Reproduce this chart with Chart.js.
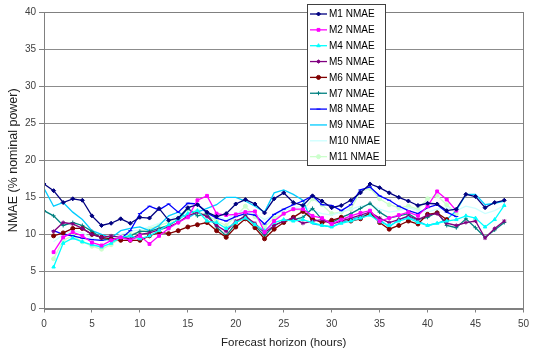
<!DOCTYPE html>
<html>
<head>
<meta charset="utf-8">
<script src="https://cdn.jsdelivr.net/npm/chart.js@4/dist/chart.umd.min.js"></script>
<style>
  html, body { margin: 0; padding: 0; background: #fff; }
  #wrap { width: 535px; height: 358px; }
</style>
</head>
<body>
<div id="wrap"><canvas id="nmaeChart" width="535" height="358"></canvas></div>
<script>
// forecast horizon in hours
const hours = [0,1,2,3,4,5,6,7,8,9,10,11,12,13,14,15,16,17,18,19,20,21,22,23,24,25,26,27,28,29,30,31,32,33,34,35,36,37,38,39,40,41,42,43,44,45,46,47,48];

const m1 = [16.8,15.9,14.3,14.8,14.6,12.5,11.2,11.5,12.1,11.5,12.3,12.2,13.5,11.9,12.2,13.6,14.0,13.0,12.4,12.8,14.1,14.7,14.1,12.9,14.8,15.6,14.3,13.9,15.2,14.5,13.6,13.9,14.6,15.6,16.8,16.3,15.6,15.0,14.5,13.9,14.2,14.1,13.2,13.4,15.4,15.1,13.6,14.3,14.6];
const m2 = [null,7.6,9.6,10.3,9.8,8.9,8.5,9.2,9.6,9.2,9.8,8.7,9.8,10.8,11.6,12.3,14.6,15.2,12.8,12.6,12.7,13.0,13.1,10.3,11.8,12.8,13.4,13.4,12.5,12.2,11.4,12.0,12.5,12.9,13.2,11.8,12.2,12.6,13.0,12.5,13.8,15.8,14.7,13.2,null,null,null,null,null];
const m4 = [null,5.6,8.8,9.5,9.0,8.6,8.3,8.8,9.6,9.8,9.4,9.8,10.5,11.3,12.0,12.8,13.2,11.8,11.6,10.8,11.6,12.2,11.3,10.5,11.6,12.0,11.8,12.0,11.6,11.2,11.0,11.5,11.8,12.2,12.6,11.7,11.2,11.8,12.2,11.6,11.2,11.5,11.8,12.0,12.5,12.2,11.0,12.0,13.9];
const m5 = [null,10.4,11.6,11.4,10.8,10.0,9.6,9.8,9.6,9.4,10.0,10.2,10.6,11.0,11.6,12.5,13.0,12.4,11.2,10.4,11.8,12.4,11.5,10.2,11.2,11.8,12.2,11.5,11.8,12.0,11.4,11.8,12.2,12.6,13.0,12.2,11.6,12.0,12.5,12.0,12.6,12.8,11.5,11.2,11.6,11.8,9.5,10.8,11.8];
const m6 = [null,9.8,10.2,10.8,10.8,10.0,9.6,9.4,9.2,9.2,9.2,9.8,10.3,10.1,10.5,11.0,11.3,11.6,10.5,9.6,11.0,12.1,10.9,9.4,10.7,11.6,12.3,13.1,12.1,11.6,11.9,12.3,11.8,12.1,12.9,11.6,10.7,11.2,11.8,11.4,12.7,12.9,12.0,null,null,null,null,null,null];
const m7 = [13.2,12.5,11.2,11.6,11.2,10.4,9.5,9.2,9.4,9.8,10.4,10.4,10.8,11.2,12.0,13.5,12.5,12.8,11.0,9.8,11.5,12.6,11.2,9.8,11.2,11.8,12.0,12.3,13.5,12.0,11.6,12.3,12.8,13.5,14.2,13.0,12.2,12.5,12.8,12.0,12.3,13.0,11.2,10.9,12.1,10.9,9.6,10.6,11.6];
const m8 = [null,10.5,10.0,9.8,9.5,9.3,9.2,9.4,9.4,10.5,12.8,13.8,13.3,14.1,13.0,14.2,14.1,12.9,12.2,11.8,12.4,12.8,12.6,11.4,12.7,13.4,14.0,14.5,15.2,14.0,13.9,13.2,14.0,16.0,16.4,15.2,14.6,13.8,13.2,12.8,13.6,14.0,13.0,12.4,null,null,null,null,null];
const m9 = [16.2,13.8,14.3,13.0,12.0,10.5,10.0,9.5,10.5,10.8,11.0,10.5,11.2,12.5,13.0,12.2,13.0,13.5,14.0,15.0,15.0,14.5,13.8,13.0,15.6,16.0,15.4,14.6,11.4,11.2,11.0,11.6,12.0,12.4,12.8,12.0,11.0,12.0,12.4,11.8,11.2,11.5,12.0,13.2,15.4,15.4,14.0,14.2,14.5];
const m10 = [null,9.0,10.0,10.5,10.2,9.5,9.2,9.4,10.0,10.4,10.6,11.0,11.5,12.0,12.6,13.0,13.4,13.0,12.5,12.0,12.8,13.2,12.8,12.0,12.6,13.2,13.6,13.8,13.2,12.8,12.6,13.0,13.4,13.8,14.0,13.4,13.0,13.2,13.6,13.2,13.0,13.4,13.6,13.2,13.8,13.5,12.8,13.2,13.9];
const m11 = [null,6.7,9.2,9.8,9.0,8.4,8.0,8.6,9.5,10.0,10.4,10.8,11.2,11.6,12.2,13.4,13.0,12.6,11.8,11.2,12.5,13.8,12.4,11.0,12.2,12.8,13.4,13.2,14.8,14.0,12.8,13.0,13.4,15.8,16.2,14.8,14.0,13.6,13.8,13.4,14.8,15.2,14.0,12.8,null,null,null,null,null];

const seriesNames = ['M1 NMAE','M2 NMAE','M4 NMAE','M5 NMAE','M6 NMAE','M7 NMAE','M8 NMAE','M9 NMAE','M10 NMAE','M11 NMAE'];
const seriesValues = [m1, m2, m4, m5, m6, m7, m8, m9, m10, m11];
const seriesColors = ['#000080','#ff00ff','#00ffff','#800080','#800000','#008080','#0000ff','#00ccff','#ccffff','#ccffcc'];
const seriesMarkers = ['rectRot','rect','triangle','star','circle','cross','line',false,false,'circle'];

const xTicks = [0,5,10,15,20,25,30,35,40,45,50];
const yTicks = [0,5,10,15,20,25,30,35,40];

const datasets = seriesNames.map(function (name, i) {
    return {
        label: name,
        data: hours.map(function (h, j) { return { x: h, y: seriesValues[i][j] }; }),
        borderColor: seriesColors[i],
        backgroundColor: seriesColors[i],
        borderWidth: 1.3,
        pointStyle: seriesMarkers[i],
        pointRadius: seriesMarkers[i] ? 2 : 0,
        pointBorderWidth: 1,
        tension: 0,
        spanGaps: false
    };
});

// Excel-like legend box over the plot, plus the plot frame
const boxLegend = {
    id: 'boxLegend',
    afterDraw: function (chart) {
        const ctx = chart.ctx;
        const a = chart.chartArea;
        ctx.save();
        ctx.strokeStyle = '#808080';
        ctx.lineWidth = 1;
        ctx.strokeRect(Math.round(a.left) + 0.5, Math.round(a.top) + 0.5, Math.round(a.right - a.left), Math.round(a.bottom - a.top));

        const bx = 307, by = 4, bw = 78, bh = 161;
        ctx.fillStyle = '#ffffff';
        ctx.fillRect(bx, by, bw, bh);
        ctx.strokeStyle = '#404040';
        ctx.strokeRect(bx + 0.5, by + 0.5, bw, bh);

        ctx.font = '10px "Liberation Sans", Arial, sans-serif';
        ctx.textBaseline = 'middle';
        chart.data.datasets.forEach(function (ds, i) {
            const y = 14 + i * 15.85;
            ctx.strokeStyle = ds.borderColor;
            ctx.fillStyle = ds.backgroundColor;
            ctx.lineWidth = 1.3;
            ctx.beginPath();
            ctx.moveTo(310, y);
            ctx.lineTo(327, y);
            ctx.stroke();
            ctx.lineWidth = 1;
            if (ds.pointStyle) {
                Chart.helpers.drawPoint(ctx, { pointStyle: ds.pointStyle, radius: 2, rotation: 0, borderWidth: 1 }, 318.5, y);
            }
            ctx.fillStyle = '#000000';
            ctx.fillText(ds.label, 329, y + 0.5);
        });
        ctx.restore();
    }
};

new Chart(document.getElementById('nmaeChart').getContext('2d'), {
    type: 'line',
    data: { datasets: datasets },
    plugins: [boxLegend],
    options: {
        responsive: false,
        animation: false,
        layout: { padding: { top: 12, right: 4, left: 0, bottom: 0 } },
        plugins: {
            legend: { display: false },
            tooltip: { enabled: false }
        },
        scales: {
            x: {
                type: 'linear',
                min: 0,
                max: 50,
                afterBuildTicks: function (scale) { scale.ticks = xTicks.map(function (v) { return { value: v }; }); },
                afterFit: function (scale) { scale.height = 49.5; },
                grid: { drawOnChartArea: false, color: '#808080', tickLength: 4, tickColor: '#808080' },
                border: { color: '#808080' },
                ticks: { color: '#404040', padding: 6, maxRotation: 0, font: { family: '"Liberation Sans", Arial', size: 10 } },
                title: {
                    display: true,
                    text: 'Forecast horizon (hours)',
                    color: '#202020',
                    padding: { top: 0, bottom: 8 },
                    font: { family: '"Liberation Sans", Arial', size: 11.5 }
                }
            },
            y: {
                min: 0,
                max: 40,
                afterBuildTicks: function (scale) { scale.ticks = yTicks.map(function (v) { return { value: v }; }); },
                afterFit: function (scale) { scale.width = 44; },
                grid: { color: '#8c8c8c', tickLength: 5, tickColor: '#808080' },
                border: { color: '#808080' },
                ticks: { color: '#404040', padding: 3, font: { family: '"Liberation Sans", Arial', size: 10 } },
                title: {
                    display: true,
                    text: 'NMAE (% nominal power)',
                    color: '#202020',
                    padding: { top: 6, bottom: 0 },
                    font: { family: '"Liberation Sans", Arial', size: 12.5 }
                }
            }
        }
    }
});
</script>
</body>
</html>
